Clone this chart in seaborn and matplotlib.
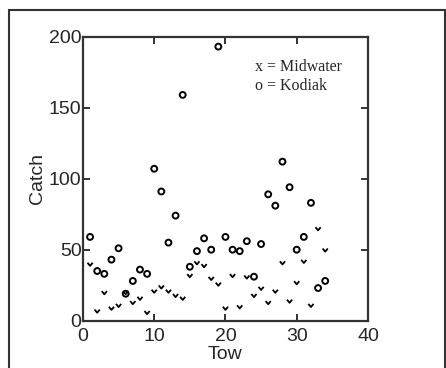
import numpy as np
import pandas as pd
import matplotlib
matplotlib.use("Agg")
import matplotlib.pyplot as plt
from matplotlib.path import Path
from matplotlib.patches import Rectangle
import seaborn as sns

# data
tow = list(range(1, 35))
kodiak = [59, 35, 33, 43, 51, 19, 28, 36, 33, 107, 91, 55, 74, 159, 38, 49, 58, 50,
          193, 59, 50, 49, 56, 31, 54, 89, 81, 112, 94, 50, 59, 83, 23, 28]
midwater = [39, 6, 19, 8, 10, 19, 12, 15, 5, 20, 23, 20, 17, 15, 31, 40, 38, 29,
            25, 8, 31, 9, 30, 17, 22, 12, 20, 40, 13, 26, 41, 10, 64, 49]

df = pd.DataFrame({"Tow": tow, "Kodiak": kodiak, "Midwater": midwater})

sns.set_style("ticks")
plt.rcParams['font.family'] = ['Liberation Sans', 'DejaVu Sans']

fig = plt.figure(figsize=(4.46, 3.68), dpi=100)
ax = fig.add_axes([0.186, 0.1285, 0.639, 0.7718])

# little "v" tick marker for the midwater tows
vmark = Path([(-1, 1), (0, -0.2), (1, 1)], [Path.MOVETO, Path.LINETO, Path.LINETO])

sns.scatterplot(data=df, x="Tow", y="Kodiak", ax=ax, marker="o", s=18,
                facecolor="none", edgecolor="black", linewidth=1.4)
sns.scatterplot(data=df, x="Tow", y="Midwater", ax=ax, marker=vmark, s=14,
                facecolor="none", edgecolor="black", linewidth=1.3)

ax.set_xlim(0, 40)
ax.set_ylim(0, 200)
ax.set_xticks([0, 10, 20, 30, 40])
ax.set_yticks([0, 50, 100, 150, 200])
ax.tick_params(direction="in", length=5, width=1.3, top=True, right=True,
               labelsize=14, color="#222222")
ax.tick_params(axis="x", pad=5)
ax.tick_params(axis="y", pad=1)
ax.set_xlabel("Tow", fontsize=14, labelpad=1)
ax.set_ylabel("Catch", fontsize=14, labelpad=2)
for sp in ax.spines.values():
    sp.set_linewidth(1.6)
    sp.set_color("#333333")

ax.text(24.2, 178.8, "x = Midwater", fontsize=11.5, va="center",
        family=["Liberation Serif", "DejaVu Serif"])
ax.text(24.2, 165.4, "o = Kodiak", fontsize=11.5, va="center",
        family=["Liberation Serif", "DejaVu Serif"])

# outer frame around the whole plot
fig.patches.append(Rectangle((0.02, -0.1), 0.977, 1.073, transform=fig.transFigure,
                             fill=False, edgecolor="#333333", linewidth=1.5))

fig.savefig("out.png", dpi=100)
